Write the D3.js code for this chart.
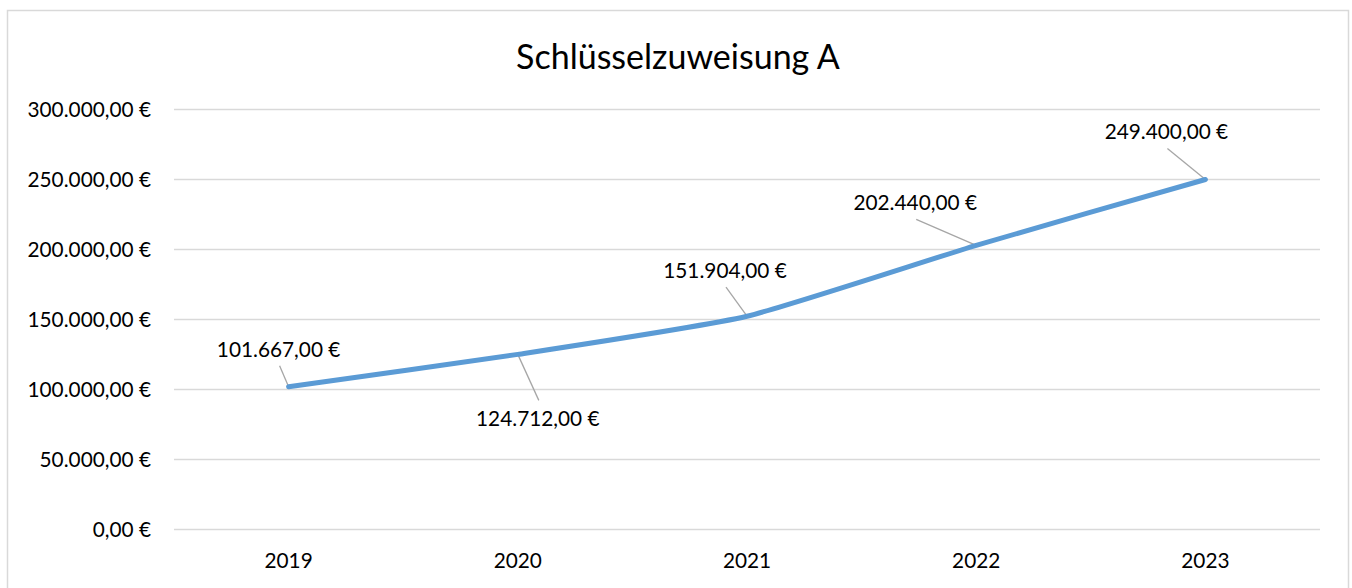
<!DOCTYPE html>
<html><head><meta charset="utf-8">
<script src="https://cdn.jsdelivr.net/npm/d3@7"></script>
<style>
html,body{margin:0;padding:0;background:#fff;}
svg{display:block;font-family:Lato,"Open Sans",sans-serif;}
</style></head>
<body>
<svg id="chart" width="1352" height="588"></svg>
<script>
const title = "Schlüsselzuweisung A";
const categories = ["2019","2020","2021","2022","2023"];
const values = [101667, 124712, 151904, 202440, 249400];
const yTicks = [0, 50000, 100000, 150000, 200000, 250000, 300000];
// label placement (offsets of label center/baseline from the point)
const labelDx = [-10, 20, -22, -61, -39];
const labelDy = [-30, 72, -38, -35, -40];

const svg = d3.select("#chart");
const FS = 20.8;

// chart border
svg.append("rect").attr("x",7.5).attr("y",10.5).attr("width",1341).attr("height",600)
  .attr("fill","#fff").attr("stroke","#d9d9d9").attr("stroke-width",1.5);

const x = d3.scaleBand().domain(categories).range([174,1320]).padding(0);
const y = d3.scaleLinear().domain([0,300000]).range([529.3,108.5]);

const loc = d3.formatLocale({decimal:",",thousands:".",grouping:[3],currency:["","€"]});
const fmt = v => loc.format(",.2f")(v) + " €";

// gridlines
svg.append("g").selectAll("line").data(yTicks).join("line")
  .attr("x1",174).attr("x2",1320)
  .attr("y1",d=>Math.round(y(d))+0.5).attr("y2",d=>Math.round(y(d))+0.5)
  .attr("stroke","#d9d9d9").attr("stroke-width",1.3);

// y axis labels
const yAxis = d3.axisLeft(y).tickValues(yTicks).tickFormat(fmt).tickSize(0).tickPadding(0);
const gy = svg.append("g").attr("transform","translate(151,0)").call(yAxis);
gy.select(".domain").remove();
gy.selectAll("text").attr("font-size",FS).attr("fill","#000").attr("font-family","Lato").attr("dy","0.36em");

// x axis labels
const xAxis = d3.axisBottom(x).tickSize(0).tickPadding(0);
const gx = svg.append("g").attr("transform","translate(0,553)").call(xAxis);
gx.select(".domain").remove();
gx.selectAll("text").attr("font-size",FS).attr("fill","#000").attr("font-family","Lato").attr("dy","0.72em");

// title
svg.append("text").attr("x",678).attr("y",69).attr("text-anchor","middle")
  .attr("font-size",34).attr("fill","#000").text(title);

const cx = d => x(d) + x.bandwidth()/2;
const pts = categories.map((c,i)=>({c, v:values[i], px:cx(c), py:y(values[i]), i}));

// leader lines
svg.append("g").selectAll("line").data(pts).join("line")
  .attr("x1",d=>d.px+labelDx[d.i]+1)
  .attr("y1",d=>labelDy[d.i]>0 ? d.py+labelDy[d.i]-26 : d.py+labelDy[d.i]+9)
  .attr("x2",d=>d.px).attr("y2",d=>d.py)
  .attr("stroke","#a6a6a6").attr("stroke-width",1.3);

// line
const line = d3.line().x(d=>d.px).y(d=>d.py).curve(d3.curveCardinal.tension(0.5));
svg.append("path").datum(pts).attr("d",line).attr("fill","none")
  .attr("stroke","#5b9bd5").attr("stroke-width",5).attr("stroke-linecap","round").attr("stroke-linejoin","round");

// data labels
svg.append("g").selectAll("text").data(pts).join("text")
  .attr("x",d=>d.px+labelDx[d.i]).attr("y",d=>d.py+labelDy[d.i])
  .attr("text-anchor","middle").attr("font-size",FS).attr("fill","#000")
  .text(d=>fmt(d.v));
</script>
</body></html>
